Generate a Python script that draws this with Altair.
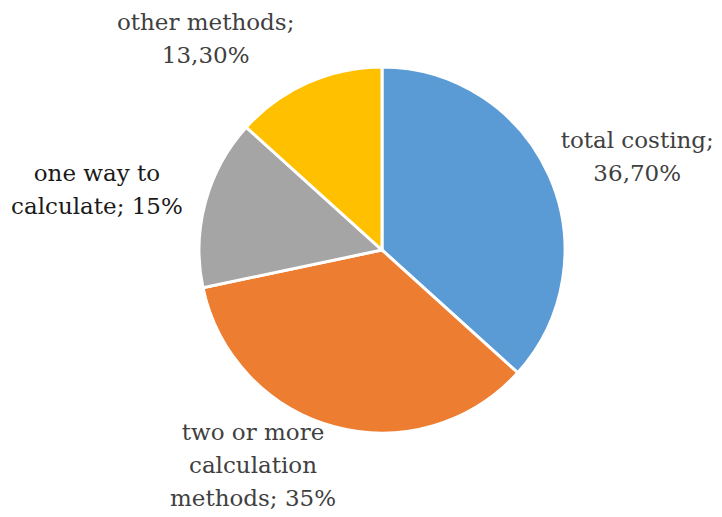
import altair as alt
import pandas as pd

categories = ["total costing", "two or more calculation methods", "one way to calculate", "other methods"]
values = [36.7, 35.0, 15.0, 13.3]
label_lines = [
    ["total costing;", "36,70%"],
    ["two or more", "calculation", "methods; 35%"],
    ["one way to", "calculate;  15%"],
    ["other methods;", "13,30%"],
]
colors = ["#5B9BD5", "#ED7D31", "#A5A5A5", "#FFC000"]

df = pd.DataFrame({
    "category": categories,
    "value": values,
    "order": list(range(len(categories))),
    "label": label_lines,
})

CX, CY = 374, 242
LH = 33
theta_scale = alt.Scale(domain=[0, 100])

pie = alt.Chart(df).mark_arc(radius=183, stroke="white", strokeWidth=3).encode(
    theta=alt.Theta("value:Q", stack=True, scale=theta_scale),
    order=alt.Order("order:Q"),
    color=alt.Color("category:N", scale=alt.Scale(domain=categories, range=colors), legend=None),
    x=alt.value(CX),
    y=alt.value(CY),
)

offsets = {
    "total costing": (45, 1, 2, "#404040"),
    "two or more calculation methods": (-69, -6, 3, "#404040"),
    "one way to calculate": (-63, 0, 2, "#1a1a1a"),
    "other methods": (-83, 0, 2, "#404040"),
}

text_base = alt.Chart(df).transform_window(
    cum="sum(value)", sort=[alt.SortField("order")]
).transform_calculate(
    mid="datum.cum - datum.value / 2"
)

layers = [pie]
for cat, (dx, dy, n, col) in offsets.items():
    t = text_base.transform_filter(alt.datum.category == cat).mark_text(
        radius=230, dx=dx, dy=dy - (n - 1) * LH / 2,
        font="DejaVu Serif", fontSize=23,
        lineHeight=LH, align="center", baseline="middle", color=col,
    ).encode(
        theta=alt.Theta("mid:Q", scale=theta_scale),
        text="label",
        x=alt.value(CX),
        y=alt.value(CY),
    )
    layers.append(t)

chart = alt.layer(*layers).properties(
    width=706, height=501,
    autosize=alt.AutoSizeParams(type="none"),
    padding=0,
).configure_view(stroke=None)

chart.save("out.html", embed_options={"renderer": "svg", "actions": False})
